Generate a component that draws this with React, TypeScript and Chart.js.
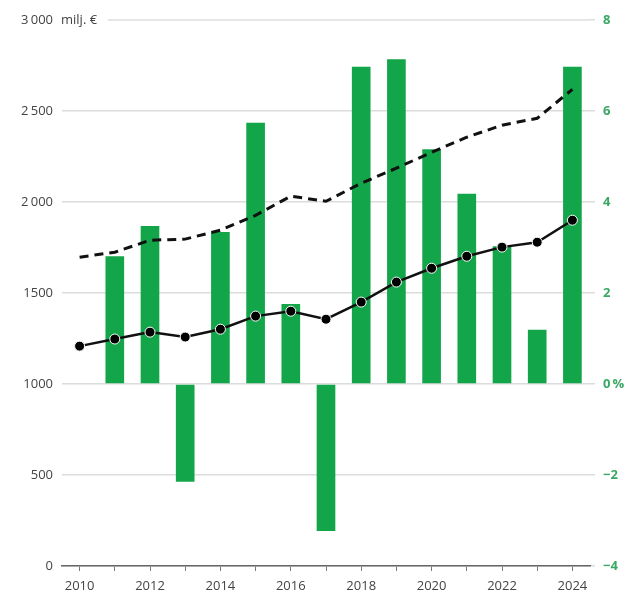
import React, { useEffect, useRef } from "react";
import { Chart, registerables } from "chart.js";

Chart.register(...registerables);

const years = ["2010","2011","2012","2013","2014","2015","2016","2017","2018","2019","2020","2021","2022","2023","2024"];
const growthPct = [null, 2.81, 3.47, -2.15, 3.34, 5.74, 1.76, -3.23, 6.97, 7.14, 5.16, 4.18, 3.03, 1.19, 6.97];
const solidSeries = [1208, 1247, 1285, 1258, 1301, 1373, 1400, 1356, 1450, 1560, 1636, 1702, 1752, 1779, 1900];
const dashedSeries = [1697, 1724, 1790, 1796, 1845, 1927, 2032, 2004, 2103, 2186, 2273, 2356, 2422, 2460, 2619];
const leftTickLabels: Record<number, string> = { 3000: "3\u2009000", 2500: "2\u2009500", 2000: "2\u2009000", 1500: "1500", 1000: "1000", 500: "500", 0: "0" };
const rightTickLabels: Record<number, string> = { 8: "8", 6: "6", 4: "4", 2: "2", 0: "0\u2009%", [-2]: "\u22122", [-4]: "\u22124" };
const unitLabel = "milj. \u20ac";

const FONT = "'Open Sans', 'Noto Sans', sans-serif";
const GREEN = "#13a54a";
const GREEN_TEXT = "#3aa864";
const GRID = "#dcdcdc";

export default function App() {
  const ref = useRef<HTMLCanvasElement | null>(null);
  useEffect(() => {
    if (!ref.current) return;
    const unitPlugin = {
      id: "unitLabel",
      beforeDatasetsDraw(chart: any) {
        const ctx = chart.ctx;
        const y = chart.scales.y;
        const py = y.getPixelForValue(3000);
        ctx.save();
        ctx.font = `13px ${FONT}`;
        ctx.fillStyle = "#444";
        ctx.textBaseline = "middle";
        ctx.textAlign = "left";
        ctx.fillText(unitLabel, chart.chartArea.left - 1, py);
        const w = ctx.measureText(unitLabel).width;
        ctx.strokeStyle = GRID;
        ctx.lineWidth = 1.5;
        ctx.beginPath();
        ctx.moveTo(chart.chartArea.left + w + 10, py);
        ctx.lineTo(chart.chartArea.right, py);
        ctx.stroke();
        ctx.restore();
      },
    };
    const chart = new Chart(ref.current, {
      type: "bar",
      data: {
        labels: years,
        datasets: [
          {
            type: "line",
            data: dashedSeries,
            yAxisID: "y",
            borderColor: "#111",
            borderWidth: 3,
            borderDash: [9, 6],
            pointRadius: 0,
            tension: 0,
            order: 1,
          } as any,
          {
            type: "line",
            data: solidSeries,
            yAxisID: "y",
            borderColor: "#111",
            borderWidth: 2.5,
            pointRadius: 5,
            pointBackgroundColor: "#000",
            pointBorderColor: "#fff",
            pointBorderWidth: 1,
            tension: 0,
            order: 0,
          } as any,
          {
            type: "bar",
            data: growthPct,
            yAxisID: "y1",
            backgroundColor: GREEN,
            borderWidth: 0,
            categoryPercentage: 1,
            barPercentage: 0.53,
            order: 2,
          } as any,
        ],
      },
      options: {
        animation: false,
        responsive: false,
        maintainAspectRatio: false,
        layout: { padding: { top: 20, left: 0, right: 0, bottom: 0 } },
        plugins: { legend: { display: false }, tooltip: { enabled: false } },
        scales: {
          x: {
            offset: true,
            grid: { offset: false, drawOnChartArea: false, drawTicks: true, tickLength: 5, color: "#777", lineWidth: 1 },
            border: { display: true, color: "#666", width: 1.5 },
            ticks: {
              autoSkip: false,
              maxRotation: 0,
              padding: 7,
              color: "#444",
              font: { family: FONT, size: 13 },
              callback: (_v: any, i: number) => (i % 2 === 0 ? years[i] : ""),
            },
            afterFit: (s: any) => { s.height = 30; },
          },
          y: {
            position: "left",
            min: 0,
            max: 3000,
            ticks: {
              stepSize: 500,
              padding: 9,
              color: "#444",
              font: { family: FONT, size: 13 },
              callback: (v: any) => leftTickLabels[v as number] ?? String(v),
            },
            grid: {
              drawTicks: false,
              lineWidth: 1.5,
              color: (c: any) => (c.tick && c.tick.value === 3000 ? "rgba(0,0,0,0)" : GRID),
            },
            border: { display: false },
            afterFit: (s: any) => { s.width = 62; },
          },
          y1: {
            position: "right",
            min: -4,
            max: 8,
            ticks: {
              stepSize: 2,
              padding: 8,
              color: GREEN_TEXT,
              font: { family: FONT, size: 13, weight: "bold" },
              callback: (v: any) => rightTickLabels[v as number] ?? String(v),
            },
            grid: { drawOnChartArea: false, drawTicks: true, tickLength: 5, color: GRID, lineWidth: 1.5 },
            border: { display: false },
            afterFit: (s: any) => { s.width = 40; },
          },
        },
      } as any,
      plugins: [unitPlugin],
    });
    return () => chart.destroy();
  }, []);
  return (
    <div style={{ position: "fixed", left: 0, top: 0, width: 630, height: 596, background: "#fff" }}>
      <canvas ref={ref} width={630} height={596} style={{ width: 630, height: 596 }} />
    </div>
  );
}
